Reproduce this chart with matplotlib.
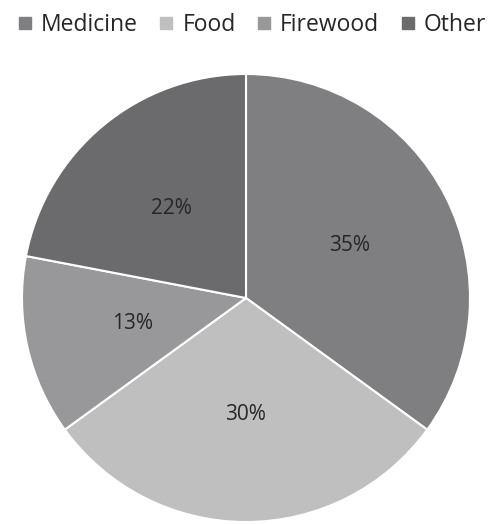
import matplotlib

matplotlib.use("Agg")
import matplotlib.pyplot as plt

labels = ["Medicine", "Food", "Firewood", "Other"]
shares = [35, 30, 13, 22]
colors = ["#7f7f81", "#bfbfc0", "#98989a", "#6b6b6d"]

plt.rcParams["font.family"] = ["Open Sans", "DejaVu Sans"]

fig = plt.figure(figsize=(4.92, 5.24), dpi=100)
ax = fig.add_axes([22 / 492, 2 / 524, 448 / 492, 448 / 524])

wedges, texts, autotexts = ax.pie(
    shares,
    colors=colors,
    startangle=90,
    counterclock=False,
    autopct="%d%%",
    pctdistance=0.52,
    wedgeprops={"edgecolor": "white", "linewidth": 1.5},
    textprops={"fontsize": 15, "color": "#262626"},
)
ax.set_xlim(-1, 1)
ax.set_ylim(-1, 1)
ax.set_aspect("equal")

handles = [plt.Line2D([], [], marker="s", linestyle="", markersize=8,
                      markerfacecolor=c, markeredgecolor=c) for c in colors]
fig.legend(handles, labels, loc="upper center", bbox_to_anchor=(0.51, 1.015),
           ncol=4, frameon=False, fontsize=16.5, handletextpad=0.3,
           columnspacing=0.85, handlelength=0.8, labelcolor="#262626")

fig.savefig("out.png", dpi=100)
